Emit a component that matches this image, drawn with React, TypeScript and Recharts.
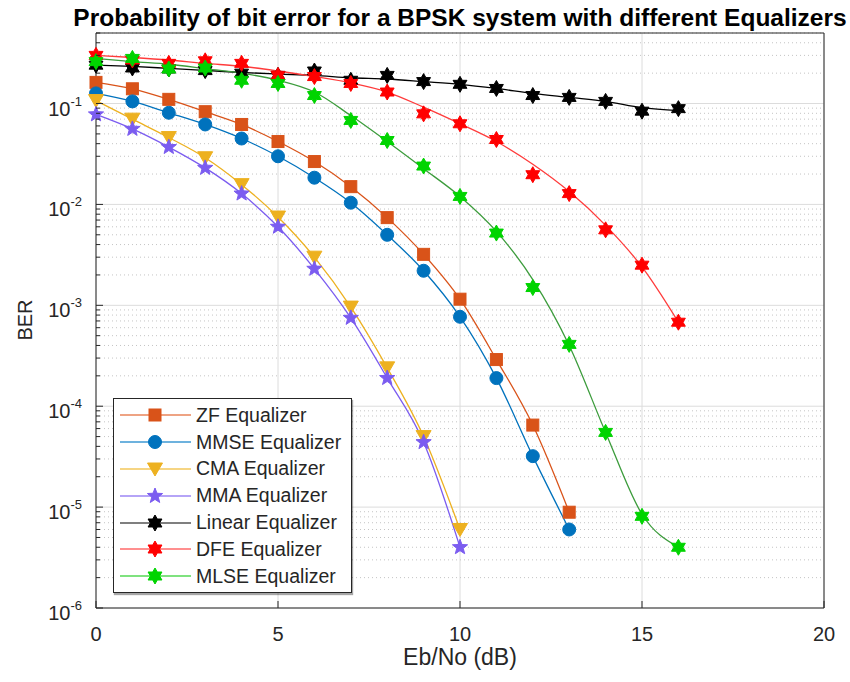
import React from "react";
import {
  LineChart,
  Line,
  XAxis,
  YAxis,
  CartesianGrid,
  ReferenceLine,
  Legend,
} from "recharts";

// Eb/No values (dB)
const ebno = [0, 1, 2, 3, 4, 5, 6, 7, 8, 9, 10, 11, 12, 13, 14, 15, 16];

// BER markers
const zfBer = [0.162, 0.14, 0.11, 0.083, 0.062, 0.042, 0.0266, 0.015, 0.0074, 0.0032, 0.00115, 0.00029, 0.000065, 0.0000089];
const mmseBer = [0.126, 0.105, 0.081, 0.062, 0.045, 0.03, 0.0184, 0.0104, 0.005, 0.0022, 0.00077, 0.00019, 0.000032, 0.000006];
const cmaBer = [0.107, 0.07, 0.046, 0.029, 0.0157, 0.0075, 0.003, 0.00096, 0.00024, 0.00005, 0.000006];
const mmaBer = [0.078, 0.056, 0.037, 0.023, 0.0128, 0.006, 0.0023, 0.00075, 0.00019, 0.000044, 0.000004];
const linearBer = [0.24, 0.225, 0.22, 0.212, 0.2, 0.19, 0.21, 0.17, 0.19, 0.165, 0.155, 0.141, 0.12, 0.115, 0.105, 0.084, 0.089];
const dfeBer = [0.3, 0.27, 0.25, 0.265, 0.25, 0.19, 0.185, 0.158, 0.13, 0.079, 0.063, 0.044, 0.0197, 0.0128, 0.0056, 0.0025, 0.00068];
const mlseBer = [0.26, 0.28, 0.22, 0.225, 0.17, 0.158, 0.12, 0.068, 0.043, 0.024, 0.012, 0.0052, 0.0015, 0.00041, 0.000055, 0.0000081, 0.000004];

// smooth fitted curves drawn through the scattered Linear / DFE / MLSE points
const linearFit = [0.24, 0.233, 0.223, 0.213, 0.203, 0.196, 0.19, 0.18, 0.175, 0.165, 0.155, 0.141, 0.126, 0.115, 0.105, 0.091, 0.085];
const dfeFit = [0.3, 0.286, 0.27, 0.25, 0.234, 0.21, 0.185, 0.16, 0.13, 0.092, 0.063, 0.042, 0.025, 0.0134, 0.0062, 0.0024, 0.00068];
const mlseFit = [0.28, 0.26, 0.245, 0.222, 0.2, 0.17, 0.13, 0.076, 0.042, 0.0226, 0.012, 0.0054, 0.0018, 0.0004, 0.000055, 0.0000085, 0.000004];

const xTicks = [0, 5, 10, 15, 20];
const yMajorTicks = [1e-6, 1e-5, 1e-4, 1e-3, 1e-2, 1e-1];
const yMinorTicks: number[] = [];
yMajorTicks.forEach((d) => {
  for (let m = 2; m <= 9; m++) {
    const v = d * m;
    if (v <= 0.5) yMinorTicks.push(v);
  }
});
const yAllTicks = [...yMajorTicks, ...yMinorTicks];

const rows = ebno.map((x, i) => ({
  ebno: x,
  zf: zfBer[i],
  mmse: mmseBer[i],
  cma: cmaBer[i],
  mma: mmaBer[i],
  linear: linearBer[i],
  dfe: dfeBer[i],
  mlse: mlseBer[i],
  linearFit: linearFit[i],
  dfeFit: dfeFit[i],
  mlseFit: mlseFit[i],
}));

const FONT = '"Liberation Sans", Arial, Helvetica, sans-serif';
const INK = "#262626";

type Shape = "square" | "circle" | "triangle" | "star" | "hexagram";

const starPoints = (cx: number, cy: number, n: number, ro: number, ri: number) => {
  const pts: string[] = [];
  for (let k = 0; k < n * 2; k++) {
    const r = k % 2 === 0 ? ro : ri;
    const a = -Math.PI / 2 + (k * Math.PI) / n;
    pts.push(`${cx + r * Math.cos(a)},${cy + r * Math.sin(a)}`);
  }
  return pts.join(" ");
};

const Marker = ({ shape, cx, cy, color }: { shape: Shape; cx: number; cy: number; color: string }) => {
  switch (shape) {
    case "square":
      return <rect x={cx - 6} y={cy - 6} width={12} height={12} fill={color} stroke={color} />;
    case "circle":
      return <circle cx={cx} cy={cy} r={6.5} fill={color} stroke={color} />;
    case "triangle":
      return (
        <polygon
          points={`${cx - 7.5},${cy - 6} ${cx + 7.5},${cy - 6} ${cx},${cy + 7}`}
          fill={color}
          stroke={color}
        />
      );
    case "star":
      return <polygon points={starPoints(cx, cy, 5, 8, 3.4)} fill={color} stroke={color} />;
    default:
      return <polygon points={starPoints(cx, cy, 6, 8, 4.6)} fill={color} stroke={color} />;
  }
};

// fit: key of a separate smooth curve; markers then carry no line of their own
const series = [
  { key: "zf", name: "ZF Equalizer", line: "#D95319", legendLine: "#E8845A", marker: "#D95319", shape: "square" as Shape, fit: "" },
  { key: "mmse", name: "MMSE Equalizer", line: "#0072BD", legendLine: "#3D98D3", marker: "#0072BD", shape: "circle" as Shape, fit: "" },
  { key: "cma", name: "CMA Equalizer", line: "#EDB120", legendLine: "#F3C75A", marker: "#EDB120", shape: "triangle" as Shape, fit: "" },
  { key: "mma", name: "MMA Equalizer", line: "#7B5CF0", legendLine: "#9D86F5", marker: "#7B5CF0", shape: "star" as Shape, fit: "" },
  { key: "linear", name: "Linear Equalizer", line: "#000000", legendLine: "#555555", marker: "#000000", shape: "hexagram" as Shape, fit: "linearFit" },
  { key: "dfe", name: "DFE Equalizer", line: "#FF3B3B", legendLine: "#FF6A6A", marker: "#FF0000", shape: "hexagram" as Shape, fit: "dfeFit" },
  { key: "mlse", name: "MLSE Equalizer", line: "#3C9C3C", legendLine: "#55D855", marker: "#00D400", shape: "hexagram" as Shape, fit: "mlseFit" },
];

const makeDot = (shape: Shape, color: string) => (p: any) => {
  if (p.cx == null || p.cy == null || p.value == null) return <g key={p.index} />;
  return (
    <g key={p.index}>
      <Marker shape={shape} cx={p.cx} cy={p.cy} color={color} />
    </g>
  );
};

const YTick = (props: any) => {
  const { x, y, payload } = props;
  const v = payload.value;
  const exp = Math.round(Math.log10(v));
  const isMajor = Math.abs(Math.log10(v) - exp) < 1e-6;
  const axisX = x + 14;
  return (
    <g>
      <line x1={axisX} x2={axisX + (isMajor ? 7 : 4)} y1={y} y2={y} stroke={INK} strokeWidth={1} />
      {isMajor && (
        <text x={x} y={y + 12} textAnchor="end" fill={INK} fontFamily={FONT}>
          <tspan fontSize={20}>10</tspan>
          <tspan fontSize={13} dy={-10}>
            {exp}
          </tspan>
        </text>
      )}
    </g>
  );
};

const XTick = (props: any) => {
  const { x, y, payload } = props;
  return (
    <g>
      <line x1={x} x2={x} y1={y} y2={y - 7} stroke={INK} strokeWidth={1} />
      <text x={x} y={y + 33} textAnchor="middle" fill={INK} fontFamily={FONT} fontSize={20}>
        {payload.value}
      </text>
    </g>
  );
};

const LegendBox = () => (
  <div
    style={{
      width: 237,
      padding: "3px 0 2px 0",
      border: `1px solid ${INK}`,
      background: "#fff",
      boxShadow: "1px 2px 1px rgba(0,0,0,0.35)",
      fontFamily: FONT,
      fontSize: 19.5,
      color: INK,
    }}
  >
    {series.map((s) => (
      <div key={s.key} style={{ display: "flex", alignItems: "center", height: 26.8 }}>
        <svg width={82} height={26} style={{ flex: "none" }}>
          <line x1={6} x2={77} y1={13} y2={13} stroke={s.legendLine} strokeWidth={1.5} />
          <Marker shape={s.shape} cx={41} cy={13} color={s.marker} />
        </svg>
        <span style={{ whiteSpace: "nowrap" }}>{s.name}</span>
      </div>
    ))}
  </div>
);

export default function App() {
  return (
    <div style={{ position: "absolute", left: 0, top: 0, width: 850, height: 682, background: "#fff" }}>
      <LineChart
        width={850}
        height={682}
        data={rows}
        margin={{ top: 33, right: 26, bottom: 0, left: 0 }}
      >
        <CartesianGrid horizontal={false} stroke="#dcdcdc" />
        {yMinorTicks.map((v) => (
          <ReferenceLine key={`mn${v}`} y={v} stroke="#c4c4c4" strokeDasharray="1 3" />
        ))}
        {yMajorTicks.map((v) => (
          <ReferenceLine key={`mj${v}`} y={v} stroke="#dcdcdc" />
        ))}
        <ReferenceLine y={0.5} stroke={INK} />
        <ReferenceLine x={20} stroke={INK} />
        <XAxis
          dataKey="ebno"
          type="number"
          domain={[0, 20]}
          ticks={xTicks}
          height={74}
          tickSize={0}
          tickMargin={0}
          axisLine={{ stroke: INK }}
          tick={<XTick />}
        />
        <YAxis
          scale="log"
          domain={[1e-6, 0.5]}
          allowDataOverflow
          ticks={yAllTicks}
          interval={0}
          width={96}
          tickSize={0}
          tickMargin={14}
          axisLine={{ stroke: INK }}
          tick={<YTick />}
        />
        <Legend
          layout="vertical"
          align="center"
          verticalAlign="middle"
          content={<LegendBox />}
          wrapperStyle={{ left: 113, top: 398, width: 239, height: 195 }}
        />
        {series.map((s) =>
          s.fit ? (
            <Line
              key={`${s.key}-fit`}
              type="monotone"
              dataKey={s.fit}
              stroke={s.line}
              strokeWidth={1.3}
              dot={false}
              activeDot={false}
              legendType="none"
              isAnimationActive={false}
            />
          ) : null
        )}
        {series.map((s) => (
          <Line
            key={s.key}
            type="monotone"
            dataKey={s.key}
            name={s.name}
            stroke={s.fit ? "none" : s.line}
            strokeWidth={1.3}
            dot={makeDot(s.shape, s.marker)}
            activeDot={false}
            isAnimationActive={false}
          />
        ))}
        <text
          x={460}
          y={26}
          textAnchor="middle"
          fontFamily={FONT}
          fontWeight="bold"
          fontSize={24.5}
          fill="#000"
        >
          Probability of bit error for a BPSK system with different Equalizers
        </text>
        <text
          x={460}
          y={665}
          textAnchor="middle"
          fontFamily={FONT}
          fontSize={23}
          fill={INK}
        >
          Eb/No (dB)
        </text>
        <text
          x={32}
          y={320}
          transform="rotate(-90 32 320)"
          textAnchor="middle"
          fontFamily={FONT}
          fontSize={20}
          fill={INK}
        >
          BER
        </text>
      </LineChart>
    </div>
  );
}
